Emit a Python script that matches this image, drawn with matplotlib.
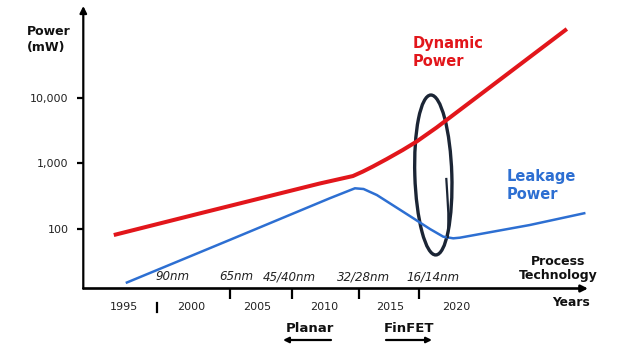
import numpy as np
import matplotlib
matplotlib.use("Agg")
import matplotlib.pyplot as plt
from matplotlib.patches import Ellipse
from matplotlib.transforms import IdentityTransform, blended_transform_factory

# ---------------- data ----------------
dyn_years = [1994.2, 2000.7, 2009.7, 2012.2, 2012.95, 2013.7, 2014.75, 2015.95, 2017.0, 2018.5, 2023.25, 2028.3]
dyn_power = [79.4, 171, 490, 638, 748, 893, 1164, 1600, 2160, 3540, 19080, 114800]

leak_years = [1995.1, 2002.95, 2010.45, 2012.35, 2013.0, 2014.0, 2015.5, 2016.75, 2018.0, 2019.0, 2019.75, 2020.25, 2025.5, 2029.7]
leak_power = [14.6, 67.1, 290.6, 413.7, 403.4, 326.2, 208.4, 143.3, 98.2, 74.9, 70.7, 72.3, 113, 173]

ytick_vals = [100, 1000, 10000]
ytick_labels = ["100", "1,000", "10,000"]

year_vals = [1995, 2000, 2005, 2010, 2015, 2020]
year_labels = ["1995", "2000", "2005", "2010", "2015", "2020"]

node_tick_years = [2002.95, 2007.6, 2012.65, 2017.15]
odd_tick_year = 1997.45
node_label_years = [1998.6, 2003.45, 2007.45, 2013.0, 2018.2]
node_labels = ["90nm", "65nm", "45/40nm", "32/28nm", "16/14nm"]

ellipse_center = (2018.25, 662)

RED = "#e2161b"
BLUE = "#2d6fd2"
DARK = "#1b2535"

# ---------------- figure ----------------
W, H = 621, 348
fig = plt.figure(figsize=(W / 100, H / 100), dpi=100)
ax = fig.add_axes([83.3 / W, (H - 288.5) / H, (W - 83.3) / W, 288.5 / H])
ax.set_yscale("log")
ax.set_xlim(1991.905, 2032.376)
ax.set_ylim(10 ** 1.0798, 10 ** 5.5046)
ax.patch.set_alpha(0)
for s in ax.spines.values():
    s.set_visible(False)

ax.set_yticks(ytick_vals)
ax.set_yticklabels(ytick_labels)
ax.yaxis.set_minor_locator(matplotlib.ticker.NullLocator())
ax.tick_params(axis="y", direction="out", length=4.5, width=1.6, pad=6,
               labelsize=8, labelcolor="#222222", color="black")
ax.set_xticks(node_tick_years)
ax.set_xticklabels([""] * len(node_tick_years))
ax.xaxis.set_minor_locator(matplotlib.ticker.NullLocator())
ax.tick_params(axis="x", direction="out", length=7, width=1.6, color="black")

# axis arrows
ax.annotate("", xy=(0, 1 - 6 / 288.5), xytext=(0, 0), xycoords="axes fraction",
            textcoords="axes fraction",
            arrowprops=dict(arrowstyle="-|>", lw=1.6, color="black", mutation_scale=10,
                            shrinkA=0, shrinkB=0))
ax.annotate("", xy=((588 - 83.3) / (W - 83.3), 0), xytext=(0, 0), xycoords="axes fraction",
            textcoords="axes fraction",
            arrowprops=dict(arrowstyle="-|>", lw=1.9, color="black", mutation_scale=10,
                            shrinkA=0, shrinkB=0))

# lines
ax.plot(dyn_years, dyn_power, color=RED, lw=2.9, solid_capstyle="butt",
        solid_joinstyle="round", clip_on=False)
ax.plot(leak_years, leak_power, color=BLUE, lw=1.8, solid_capstyle="butt",
        solid_joinstyle="round", clip_on=False)

# labels
bt = blended_transform_factory(ax.transData, ax.transAxes)
for x, lab in zip(year_vals, year_labels):
    ax.text(x, -(307 - 288.5) / 288.5, lab, transform=bt, ha="center", va="center",
            fontsize=8, color="#222222")
ax.plot([odd_tick_year, odd_tick_year], [-(303 - 288.5) / 288.5, -(312 - 288.5) / 288.5],
        transform=bt, color="black", lw=1.6, clip_on=False)
for x, lab in zip(node_label_years, node_labels):
    ax.text(x, (288.5 - 276.7) / 288.5, lab, transform=bt, ha="center", va="center",
            fontsize=8.6, style="italic", color="#222222")

ax.text(2016.66, 49200, "Dynamic\nPower", color=RED, fontsize=10.5, fontweight="bold",
        ha="left", va="center", linespacing=1.25)
ax.text(2023.8, 464, "Leakage\nPower", color=BLUE, fontsize=10.5, fontweight="bold",
        ha="left", va="center", linespacing=1.25)

fig.text(27 / W, 1 - 39.5 / H, "Power\n(mW)", fontsize=9, fontweight="bold", ha="left",
         va="center", linespacing=1.25, color="#111111")
fig.text(558 / W, 1 - 268.5 / H, "Process\nTechnology", fontsize=9, fontweight="bold",
         ha="center", va="center", multialignment="center", linespacing=1.15, color="#111111")
fig.text(571 / W, 1 - 302 / H, "Years", fontsize=8.8, fontweight="bold", ha="center",
         va="center", color="#111111")
fig.text(310 / W, 1 - 328 / H, "Planar", fontsize=9.5, fontweight="bold", ha="center",
         va="center", color="#111111")
fig.text(409 / W, 1 - 328 / H, "FinFET", fontsize=9.5, fontweight="bold", ha="center",
         va="center", color="#111111")
ax.annotate("", xy=(283 / W, 1 - 340 / H), xytext=(331 / W, 1 - 340 / H),
            xycoords="figure fraction", textcoords="figure fraction",
            arrowprops=dict(arrowstyle="-|>", lw=1.6, color="black", mutation_scale=8,
                            shrinkA=0, shrinkB=0), annotation_clip=False)
ax.annotate("", xy=(432 / W, 1 - 340 / H), xytext=(386 / W, 1 - 340 / H),
            xycoords="figure fraction", textcoords="figure fraction",
            arrowprops=dict(arrowstyle="-|>", lw=1.6, color="black", mutation_scale=8,
                            shrinkA=0, shrinkB=0), annotation_clip=False)

# hand-drawn ellipse around the crossover
cx, cy = ax.transData.transform(ellipse_center)
ell = Ellipse((cx, cy), width=37, height=160, angle=1.8, fill=False, edgecolor=DARK,
              lw=2.4, transform=IdentityTransform())
ax.add_artist(ell)
sx = np.array([13, 14, 15, 15, 14.5])
sy = np.array([-4, -20, -38, -52, -62])
ax.plot(cx + sx, cy + sy, color=DARK, lw=1.6, transform=IdentityTransform())

fig.savefig("out.png", dpi=100)
